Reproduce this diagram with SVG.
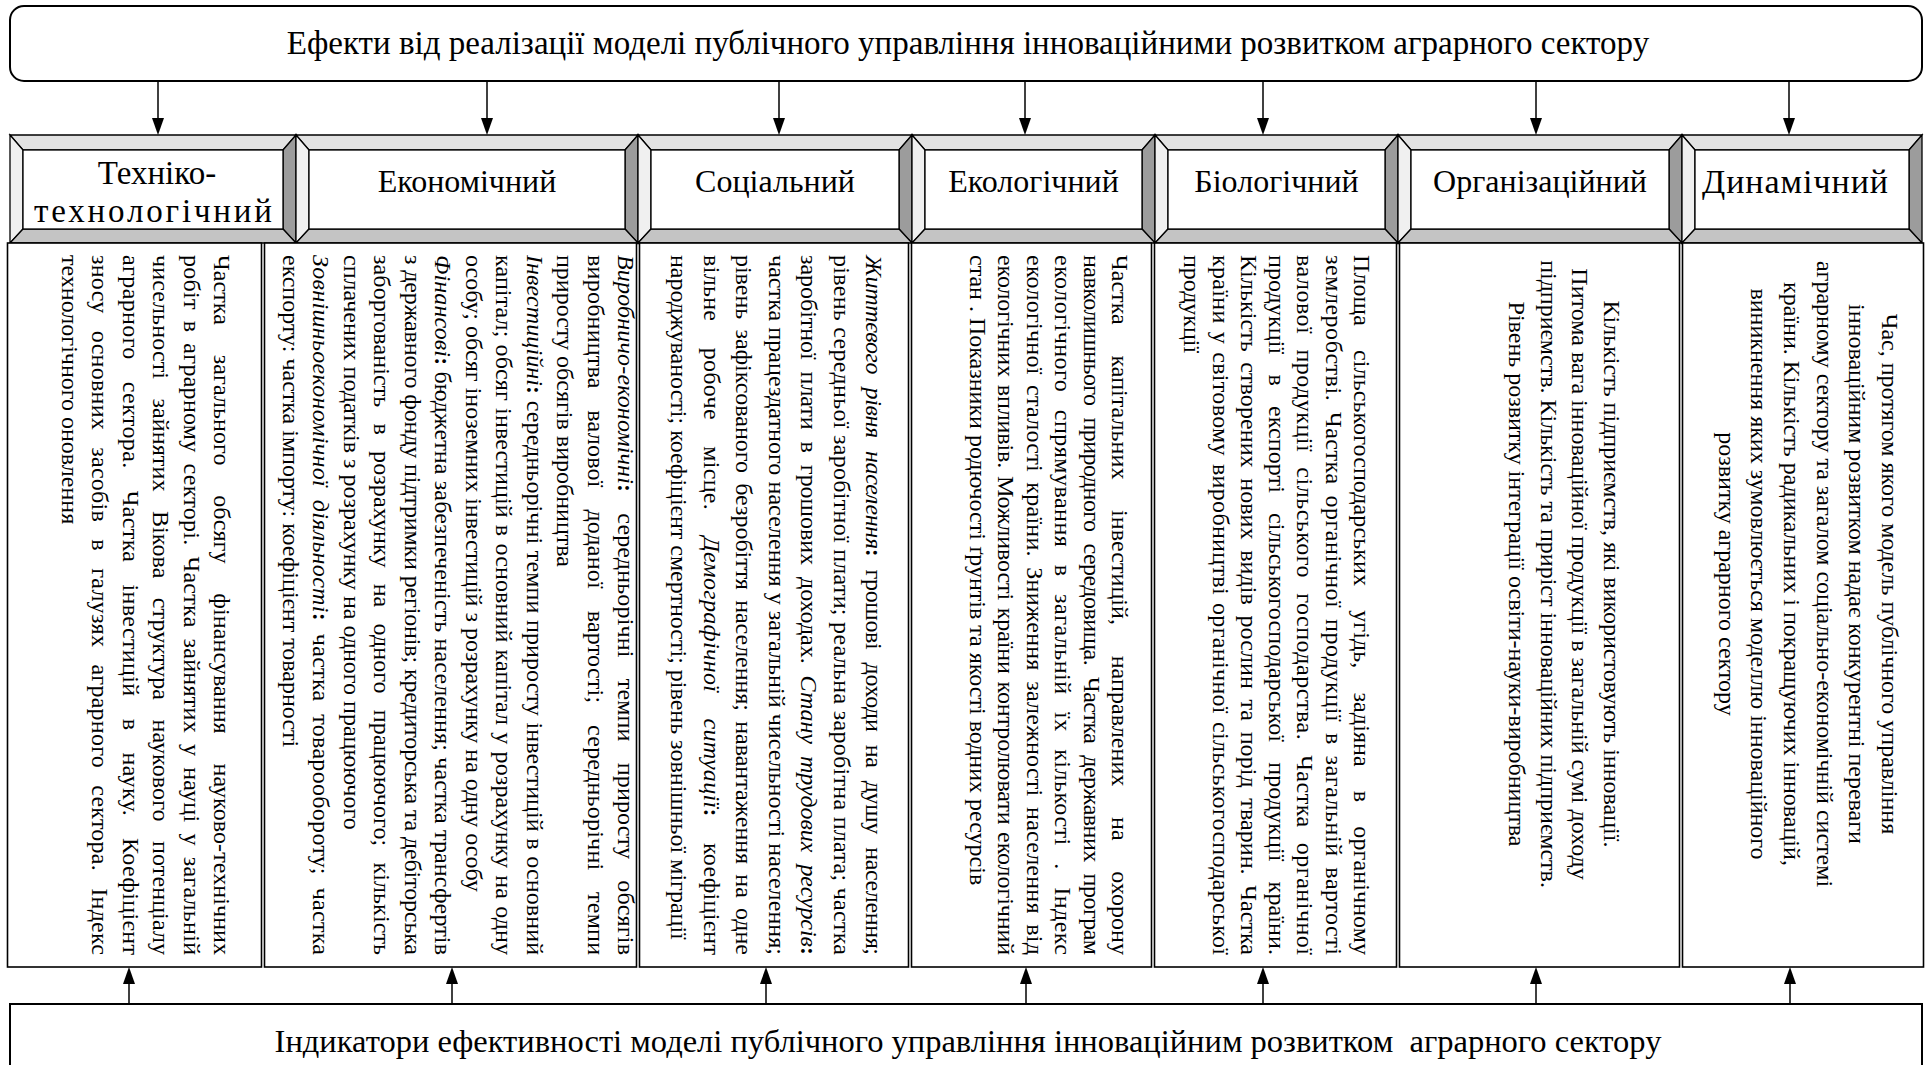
<svg xmlns="http://www.w3.org/2000/svg" width="1932" height="1065" viewBox="0 0 1932 1065">
<style>
.t{font-family:"Liberation Serif","Times New Roman",serif;fill:#000}
.title{font-size:33px;text-anchor:middle}
.hd{font-size:32px;text-anchor:middle}
.b{font-size:24px}
.c text{text-anchor:middle}
.i{font-style:italic}
.bo{font-weight:bold}
.box{fill:#fff;stroke:#000;stroke-width:2}
.col{fill:#fff;stroke:#000;stroke-width:1.6}
.bt{fill:#e2e2e2;stroke:#000;stroke-width:1.3}
.bl{fill:#f0f0f0;stroke:#000;stroke-width:1.3}
.br{fill:#9c9c9c;stroke:#000;stroke-width:1.3}
.bb{fill:#c4c4c4;stroke:#000;stroke-width:1.3}
.bi{fill:#fff;stroke:#000;stroke-width:1.3}
.arr{stroke:#000;stroke-width:1.5;fill:none;marker-end:url(#ah)}
</style>
<defs>
<marker id="ah" markerUnits="userSpaceOnUse" viewBox="0 0 17 12" refX="13" refY="6" markerWidth="17" markerHeight="12" orient="auto">
<path d="M0,0 L17,6 L0,12 Z" fill="#000"/>
</marker>
</defs>
<rect width="1932" height="1065" fill="#fff"/>

<g id="top">
<rect class="box" x="10" y="6" width="1912" height="75" rx="14" ry="14"/>
<text class="t title" x="968" y="54">Ефекти від реалізації моделі публічного управління інноваційними розвитком аграрного сектору</text>
</g>

<g id="connectors">
<line class="arr" x1="158" y1="81" x2="158" y2="131"/>
<line class="arr" x1="487" y1="81" x2="487" y2="131"/>
<line class="arr" x1="779" y1="81" x2="779" y2="131"/>
<line class="arr" x1="1025" y1="81" x2="1025" y2="131"/>
<line class="arr" x1="1263" y1="81" x2="1263" y2="131"/>
<line class="arr" x1="1536" y1="81" x2="1536" y2="131"/>
<line class="arr" x1="1789" y1="81" x2="1789" y2="131"/>
<line class="arr" x1="129" y1="1004" x2="129" y2="971"/>
<line class="arr" x1="452" y1="1004" x2="452" y2="971"/>
<line class="arr" x1="766" y1="1004" x2="766" y2="971"/>
<line class="arr" x1="1026" y1="1004" x2="1026" y2="971"/>
<line class="arr" x1="1263" y1="1004" x2="1263" y2="971"/>
<line class="arr" x1="1536" y1="1004" x2="1536" y2="971"/>
<line class="arr" x1="1790" y1="1004" x2="1790" y2="971"/>
</g>

<g id="h1">
<polygon class="bt" points="10,135 296,135 283,150 23,150"/>
<polygon class="bl" points="10,135 23,150 23,229 10,243"/>
<polygon class="br" points="296,135 296,243 283,229 283,150"/>
<polygon class="bb" points="10,243 296,243 283,229 23,229"/>
<rect class="bi" x="23" y="150" width="260" height="79"/>
<text class="t hd" style="font-size:33px" x="157" y="184">Техніко-</text>
<text class="t hd" style="font-size:33px" x="153" y="222" textLength="238">технологічний</text>
</g>
<g id="h2">
<polygon class="bt" points="296,135 638,135 625,150 309,150"/>
<polygon class="bl" points="296,135 309,150 309,229 296,243"/>
<polygon class="br" points="638,135 638,243 625,229 625,150"/>
<polygon class="bb" points="296,243 638,243 625,229 309,229"/>
<rect class="bi" x="309" y="150" width="316" height="79"/>
<text class="t hd" x="467" y="192">Економічний</text>
</g>
<g id="h3">
<polygon class="bt" points="638,135 912,135 899,150 651,150"/>
<polygon class="bl" points="638,135 651,150 651,229 638,243"/>
<polygon class="br" points="912,135 912,243 899,229 899,150"/>
<polygon class="bb" points="638,243 912,243 899,229 651,229"/>
<rect class="bi" x="651" y="150" width="248" height="79"/>
<text class="t hd" x="775" y="192">Соціальний</text>
</g>
<g id="h4">
<polygon class="bt" points="912,135 1155,135 1142,150 925,150"/>
<polygon class="bl" points="912,135 925,150 925,229 912,243"/>
<polygon class="br" points="1155,135 1155,243 1142,229 1142,150"/>
<polygon class="bb" points="912,243 1155,243 1142,229 925,229"/>
<rect class="bi" x="925" y="150" width="217" height="79"/>
<text class="t hd" x="1033.5" y="192">Екологічний</text>
</g>
<g id="h5">
<polygon class="bt" points="1155,135 1398,135 1385,150 1168,150"/>
<polygon class="bl" points="1155,135 1168,150 1168,229 1155,243"/>
<polygon class="br" points="1398,135 1398,243 1385,229 1385,150"/>
<polygon class="bb" points="1155,243 1398,243 1385,229 1168,229"/>
<rect class="bi" x="1168" y="150" width="217" height="79"/>
<text class="t hd" x="1276.5" y="192">Біологічний</text>
</g>
<g id="h6">
<polygon class="bt" points="1398,135 1682,135 1669,150 1411,150"/>
<polygon class="bl" points="1398,135 1411,150 1411,229 1398,243"/>
<polygon class="br" points="1682,135 1682,243 1669,229 1669,150"/>
<polygon class="bb" points="1398,243 1682,243 1669,229 1411,229"/>
<rect class="bi" x="1411" y="150" width="258" height="79"/>
<text class="t hd" x="1540" y="192">Організаційний</text>
</g>
<g id="h7">
<polygon class="bt" points="1682,135 1922,135 1909,150 1695,150"/>
<polygon class="bl" points="1682,135 1695,150 1695,229 1682,243"/>
<polygon class="br" points="1922,135 1922,243 1909,229 1909,150"/>
<polygon class="bb" points="1682,243 1922,243 1909,229 1695,229"/>
<rect class="bi" x="1695" y="150" width="214" height="79"/>
<text class="t hd" style="font-size:34px" x="1795" y="193" textLength="186">Динамічний</text>
</g>

<g id="c1">
<rect class="col" x="7.5" y="243" width="254" height="724"/>
<g class="t b" transform="translate(214,255) rotate(90)">
<text y="0" textLength="700" word-spacing="23.7">Частка загального обсягу фінансування науково-технічних</text>
<text y="30.4" textLength="700" word-spacing="4.7">робіт в аграрному секторі. Частка зайнятих у науці у загальній</text>
<text y="60.8" textLength="700" word-spacing="13.2">чисельності зайнятих Вікова структура наукового потенціалу</text>
<text y="91.2" textLength="700" word-spacing="15.7">аграрного сектора. Частка інвестицій в науку. Коефіцієнт</text>
<text y="121.6" textLength="700" word-spacing="11">зносу основних засобів в галузях аграрного сектора. Індекс</text>
<text y="152">технологічного оновлення</text>
</g>
</g>

<g id="c2">
<rect class="col" x="264.5" y="243" width="372" height="724"/>
<g class="t b" transform="translate(618,255) rotate(90)">
<text y="0" textLength="700" word-spacing="15"><tspan class="i">Виробничо-економічні</tspan><tspan class="bo">:</tspan> середньорічні темпи приросту обсягів</text>
<text y="30.5" textLength="700" word-spacing="15.4">виробництва валової доданої вартості; середньорічні темпи</text>
<text y="61">приросту обсягів виробництва</text>
<text y="91.5" textLength="700" word-spacing="0.5"><tspan class="i">Інвестиційні</tspan><tspan class="bo">:</tspan> середньорічні темпи приросту інвестицій в основний</text>
<text y="122" textLength="700" word-spacing="1">капітал; обсяг інвестицій в основний капітал у розрахунку на одну</text>
<text y="152.5">особу; обсяг іноземних інвестицій з розрахунку на одну особу</text>
<text y="183" textLength="700"><tspan class="i">Фінансові</tspan><tspan class="bo">:</tspan> бюджетна забезпеченість населення; частка трансфертів</text>
<text y="213.5" textLength="700">з державного фонду підтримки регіонів; кредиторська та дебіторська</text>
<text y="244" textLength="700" word-spacing="10">заборгованість в розрахунку на одного працюючого; кількість</text>
<text y="274.5">сплачених податків з розрахунку на одного працюючого</text>
<text y="305" textLength="700" word-spacing="6.5"><tspan class="i">Зовнішньоекономічної діяльності</tspan><tspan class="bo">:</tspan> частка товарообороту; частка</text>
<text y="335.5">експорту: частка імпорту: коефіцієнт товарності</text>
</g>
</g>

<g id="c3">
<rect class="col" x="639.5" y="243" width="269" height="724"/>
<g class="t b" transform="translate(866,255) rotate(90)">
<text y="0" textLength="700" word-spacing="7.7"><tspan class="i">Життєвого рівня населення</tspan><tspan class="bo">:</tspan> грошові доходи на душу населення;</text>
<text y="32.5" textLength="700">рівень середньої заробітної плати; реальна заробітна плата; частка</text>
<text y="65" textLength="700" word-spacing="6">заробітної плати в грошових доходах. <tspan class="i">Стану трудових ресурсів</tspan><tspan class="bo">:</tspan></text>
<text y="97.5" textLength="700">частка працездатного населення у загальній чисельності населення;</text>
<text y="130" textLength="700" word-spacing="4.3">рівень зафіксованого безробіття населення; навантаження на одне</text>
<text y="162.5" textLength="700" word-spacing="20">вільне робоче місце. <tspan class="i">Демографічної ситуації</tspan><tspan class="bo">:</tspan> коефіцієнт</text>
<text y="195">народжуваності; коефіцієнт смертності; рівень зовнішньої міграції</text>
</g>
</g>

<g id="c4">
<rect class="col" x="911.5" y="243" width="240" height="724"/>
<g class="t b" transform="translate(1112,255) rotate(90)">
<text y="0" textLength="700" word-spacing="24.6">Частка капітальних інвестицій, направлених на охорону</text>
<text y="28.5" textLength="700" word-spacing="6.4">навколишнього природного середовища. Частка державних програм</text>
<text y="57" textLength="700" word-spacing="11">екологічного спрямування в загальній їх кількості . Індекс</text>
<text y="85.5" textLength="700" word-spacing="4.3">екологічної сталості країни. Зниження залежності населення від</text>
<text y="114" textLength="700" word-spacing="1.8">екологічних впливів. Можливості країни контролювати екологічний</text>
<text y="142.5">стан . Показники родючості ґрунтів та якості водних ресурсів</text>
</g>
</g>

<g id="c5">
<rect class="col" x="1154.5" y="243" width="242" height="724"/>
<g class="t b" transform="translate(1354,255) rotate(90)">
<text y="0" textLength="700" word-spacing="18">Площа сільськогосподарських угідь, задіяна в органічному</text>
<text y="28.3" textLength="700" word-spacing="4.3">землеробстві. Частка органічної продукції в загальній вартості</text>
<text y="56.6" textLength="700" word-spacing="8.6">валової продукції сільського господарства. Частка органічної</text>
<text y="84.9" textLength="700" word-spacing="14">продукції в експорті сільськогосподарської продукції країни.</text>
<text y="113.2" textLength="700" word-spacing="4.5">Кількість створених нових видів рослин та порід тварин. Частка</text>
<text y="141.5" textLength="700" word-spacing="1.8">країни у світовому виробництві органічної сільськогосподарської</text>
<text y="169.8">продукції</text>
</g>
</g>

<g id="c6">
<rect class="col" x="1399.5" y="243" width="280" height="724"/>
<g class="t b c" transform="translate(1604,574) rotate(90)">
<text y="0">Кількість підприємств, які використовують інновації.</text>
<text y="31.7">Питома вага інноваційної продукції в загальній сумі доходу</text>
<text y="63.4">підприємств. Кількість та приріст інноваційних підприємств.</text>
<text y="95.1">Рівень розвитку інтеграції освіти-науки-виробництва</text>
</g>
</g>

<g id="c7">
<rect class="col" x="1682.5" y="243" width="241" height="724"/>
<g class="t b c" transform="translate(1882,574) rotate(90)">
<text y="0">Час, протягом якого модель публічного управління</text>
<text y="32.7">інноваційним розвитком надає конкурентні переваги</text>
<text y="65.4">аграрному сектору та загалом соціально-економічній системі</text>
<text y="98.1">країни. Кількість радикальних і покращуючих інновацій,</text>
<text y="130.8">виникнення яких зумовлюється моделлю інноваційного</text>
<text y="163.5">розвитку аграрного сектору</text>
</g>
</g>

<g id="bottom">
<rect class="box" x="10" y="1004" width="1912" height="80"/>
<text class="t title" style="font-size:32.5px" x="968" y="1052" xml:space="preserve">Індикатори ефективності моделі публічного управління інноваційним розвитком  аграрного сектору</text>
</g>
</svg>
